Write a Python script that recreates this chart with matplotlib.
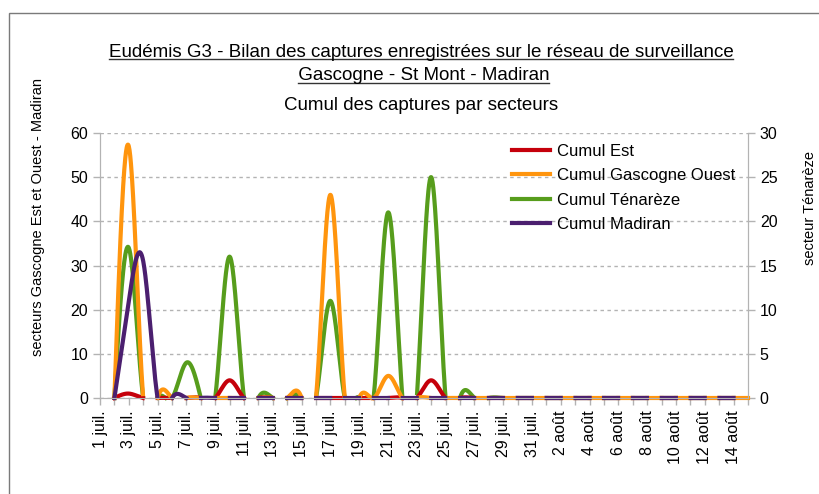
import numpy as np
import matplotlib
matplotlib.use("Agg")
import matplotlib.pyplot as plt
from matplotlib.lines import Line2D
from matplotlib.patches import Rectangle

# Relevés journaliers du 2 juil. au 15 août (le 1 juil. est vide)
jours = np.arange(1, 46)  # jours depuis le 1 juil.

cumul_est = [0, 1, 0, 0, 0, 0, 0, 0, 4, 0, 0, 0, 0, 0, 0,
             0, 0, 0, 0, 0, 0, 0, 4, 0, 0, 0, 0, 0, 0, 0,
             0, 0, 0, 0, 0, 0, 0, 0, 0, 0, 0, 0, 0, 0, 0]
cumul_gasc_ouest = [0, 57, 0, 0, 0, 0, 0, 0, 0, 0, 0, 0, 0, 0, 0,
                    46, 0, 0, 0, 5, 0, 0, 0, 0, 0, 0, 0, 0, 0, 0,
                    0, 0, 0, 0, 0, 0, 0, 0, 0, 0, 0, 0, 0, 0, 0]
cumul_tenareze = [0, 17, 0, 0, 0, 4, 0, 0, 16, 0, 0, 0, 0, 0, 0,
                  11, 0, 0, 0, 21, 0, 0, 25, 0, 0, 0, 0, 0, 0, 0,
                  0, 0, 0, 0, 0, 0, 0, 0, 0, 0, 0, 0, 0, 0, 0]
cumul_madiran = [0, 22, 31, 0, 0, 0, 0, 0, 0, 0, 0, 0, 0, 0, 0,
                 0, 0, 0, 0, 0, 0, 0, 0, 0, 0, 0, 0, 0, 0, 0,
                 0, 0, 0, 0, 0, 0, 0, 0, 0, 0, 0, 0, 0, 0, 0]

etiquettes = ["1 juil.", "3 juil.", "5 juil.", "7 juil.", "9 juil.", "11 juil.",
              "13 juil.", "15 juil.", "17 juil.", "19 juil.", "21 juil.",
              "23 juil.", "25 juil.", "27 juil.", "29 juil.", "31 juil.",
              "2 août", "4 août", "6 août", "8 août", "10 août", "12 août",
              "14 août"]

ROUGE = "#c5000b"
ORANGE = "#ff950e"
VERT = "#579d1c"
VIOLET = "#4b1f6f"
GRIS = "#b3b3b3"

plt.rcParams["font.family"] = ["Liberation Sans", "DejaVu Sans"]


def spline_naturelle(x, y, xs):
    # courbe lissée comme dans le tableur (spline cubique naturelle)
    x = np.asarray(x, float)
    y = np.asarray(y, float)
    n = len(x)
    h = np.diff(x)
    A = np.zeros((n, n))
    r = np.zeros(n)
    A[0, 0] = A[-1, -1] = 1
    for i in range(1, n - 1):
        A[i, i - 1] = h[i - 1]
        A[i, i] = 2 * (h[i - 1] + h[i])
        A[i, i + 1] = h[i]
        r[i] = 6 * ((y[i + 1] - y[i]) / h[i] - (y[i] - y[i - 1]) / h[i - 1])
    M = np.linalg.solve(A, r)
    k = np.clip(np.searchsorted(x, xs) - 1, 0, n - 2)
    x0, x1 = x[k], x[k + 1]
    hh = x1 - x0
    a = (x1 - xs) / hh
    b = (xs - x0) / hh
    ys = a * y[k] + b * y[k + 1] + ((a**3 - a) * M[k] + (b**3 - b) * M[k + 1]) * hh**2 / 6
    return np.where(ys < 0, np.nan, ys)  # le bas de l'axe coupe la courbe


fig = plt.figure(figsize=(8.19, 4.94), dpi=100)
W, H = 819, 494
ax = fig.add_axes([100 / W, 1 - 398 / H, 648 / W, 265 / H])
ax2 = ax.twinx()
# la série Ténarèze passe sous les autres
ax2.set_zorder(0)
ax.set_zorder(1)
ax.patch.set_visible(False)

xs = np.linspace(jours[0], jours[-1], 45 * 40 + 1)
lw = 3
ax.plot(xs, spline_naturelle(jours, cumul_est, xs), color=ROUGE, lw=lw, clip_on=False)
ax.plot(xs, spline_naturelle(jours, cumul_gasc_ouest, xs), color=ORANGE, lw=lw, clip_on=False)
ax.plot(xs, spline_naturelle(jours, cumul_madiran, xs), color=VIOLET, lw=lw, clip_on=False)
ax2.plot(xs, spline_naturelle(jours, cumul_tenareze, xs), color=VERT, lw=lw, clip_on=False)

ax.set_xlim(0, 45)
ax.set_ylim(0, 60)
ax2.set_ylim(0, 30)
ax.set_yticks(range(0, 61, 10))
ax2.set_yticks(range(0, 31, 5))
ax.set_xticks(range(0, 46))
ax.set_xticklabels([etiquettes[i // 2] if i % 2 == 0 else "" for i in range(46)],
                   rotation=90, va="top", ha="center")

for a in (ax, ax2):
    for s in a.spines.values():
        s.set_color(GRIS)
    a.spines["top"].set_visible(False)
    a.tick_params(colors=GRIS, labelcolor="black", labelsize=11.5, length=5, width=1)
ax.tick_params(axis="x", pad=4)
# quadrillage sur l'axe du dessous (mêmes hauteurs que 0-60)
ax.yaxis.grid(False)
ax2.yaxis.grid(True, color=GRIS, linestyle=(0, (2.5, 2.5)), lw=1)
ax2.set_axisbelow(True)

poignees = [Line2D([], [], color=ROUGE, lw=lw),
            Line2D([], [], color=ORANGE, lw=lw),
            Line2D([], [], color=VERT, lw=lw),
            Line2D([], [], color=VIOLET, lw=lw)]
ax.legend(poignees, ["Cumul Est", "Cumul Gascogne Ouest", "Cumul Ténarèze", "Cumul Madiran"],
          loc="upper left", bbox_to_anchor=(512 / W, 1 - 144 / H),
          bbox_transform=fig.transFigure, frameon=False, fontsize=12,
          handlelength=2.3, handletextpad=0.4, labelspacing=0.56,
          borderpad=0, borderaxespad=0)

fig.text(38 / W, 1 - 217 / H, "secteurs Gascogne Est et Ouest - Madiran",
         rotation=90, ha="center", va="center", fontsize=10.5)
fig.text(810 / W, 1 - 208 / H, "secteur Ténarèze",
         rotation=90, ha="center", va="center", fontsize=10.5)

# cadre autour du graphique
fig.add_artist(Rectangle((9 / W, -0.1), 1.2, 1 - 13 / H + 0.1, transform=fig.transFigure,
                         fill=False, edgecolor="#7a7a7a", lw=1))

titres = [("Eudémis G3 - Bilan des captures enregistrées sur le réseau de surveillance", 57, True),
          (" Gascogne - St Mont - Madiran", 80.5, True),
          ("Cumul des captures par secteurs", 110, False)]
objets = []
for texte, yb, souligne in titres:
    t = fig.text(421 / W, 1 - yb / H, texte, ha="center", va="baseline", fontsize=13.5)
    objets.append((t, yb, souligne))

fig.canvas.draw()
rend = fig.canvas.get_renderer()
for t, yb, souligne in objets:
    if souligne:
        bb = t.get_window_extent(rend)
        x0 = bb.x0
        if t.get_text().startswith(" "):
            x0 += 5
        y = 1 - (yb + 2.5) / H
        fig.add_artist(Line2D([x0 / W, bb.x1 / W], [y, y], transform=fig.transFigure,
                              color="#333333", lw=1))

fig.savefig("out.png", dpi=100)
